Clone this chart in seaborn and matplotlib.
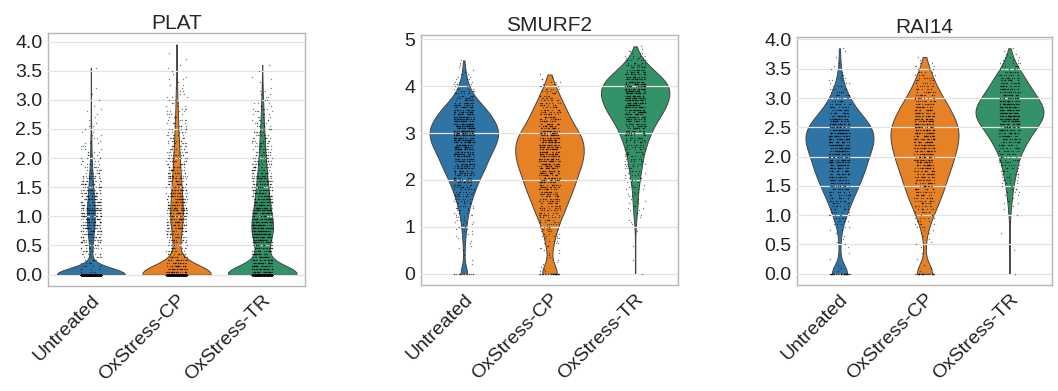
import numpy as np
import pandas as pd
import matplotlib
matplotlib.use("Agg")
import matplotlib.pyplot as plt
from matplotlib.ticker import MultipleLocator, FormatStrFormatter
import seaborn as sns

groups = ["Untreated", "OxStress-CP", "OxStress-TR"]
palette = ["#1f77b4", "#ff7f0e", "#279e68"]

# expression level (0.05 steps) -> number of cells
# each row of ten covers 0.5 units of expression
plat_levels = np.round(np.arange(0, 4.001, 0.05), 2)
plat_untreated = [1000, 4, 4, 5, 5, 5, 6, 7, 7, 9,
                  10, 11, 12, 14, 15, 17, 18, 20, 20, 21,
                  22, 21, 21, 20, 20, 18, 17, 16, 15, 14,
                  13, 12, 11, 10, 9, 8, 7, 6, 6, 5,
                  5, 4, 4, 3, 3, 3, 2, 2, 2, 2,
                  1, 2, 1, 1, 1, 1, 1, 1, 1, 0,
                  1, 0, 1, 0, 1, 0, 0, 0, 0, 0,
                  0, 1, 0, 0, 0, 0, 0, 0, 0, 0,
                  0]
plat_cp = [700, 24, 22, 20, 17, 15, 12, 11, 9, 9,
           9, 10, 11, 12, 14, 15, 16, 18, 18, 19,
           20, 20, 19, 19, 18, 18, 17, 16, 16, 15,
           15, 14, 14, 13, 13, 12, 12, 11, 11, 10,
           10, 9, 9, 8, 8, 7, 7, 7, 6, 6,
           6, 5, 5, 5, 4, 4, 4, 3, 3, 3,
           3, 3, 2, 2, 2, 2, 1, 2, 1, 1,
           1, 1, 1, 0, 1, 0, 1, 0, 0, 1,
           0]
plat_tr = [600, 30, 30, 29, 27, 25, 22, 21, 19, 19,
           20, 22, 25, 29, 34, 35, 35, 34, 32, 30,
           29, 28, 26, 25, 24, 23, 22, 21, 20, 19,
           18, 17, 16, 16, 15, 14, 13, 13, 12, 11,
           11, 10, 10, 9, 9, 8, 8, 7, 7, 7,
           6, 6, 5, 5, 4, 4, 4, 4, 3, 3,
           3, 2, 2, 2, 1, 1, 1, 1, 1, 0,
           1, 0, 1, 0, 0, 0, 0, 0, 0, 0,
           0]

smurf2_levels = np.round(np.arange(0, 4.851, 0.05), 2)
smurf2_untreated = [20, 0, 0, 0, 1, 0, 1, 0, 1, 0,
                    1, 1, 1, 1, 1, 1, 1, 2, 2, 2,
                    2, 2, 3, 3, 3, 3, 4, 4, 5, 5,
                    6, 6, 7, 8, 8, 9, 10, 11, 11, 12,
                    13, 14, 15, 16, 17, 18, 19, 20, 20, 21,
                    22, 23, 24, 25, 26, 28, 28, 29, 30, 30,
                    30, 30, 30, 29, 28, 27, 25, 24, 23, 21,
                    20, 18, 16, 14, 12, 10, 8, 7, 6, 5,
                    4, 4, 3, 3, 2, 2, 1, 1, 1, 1,
                    1, 1, 0, 0, 0, 0, 0, 0]
smurf2_cp = [35, 2, 1, 1, 1, 1, 1, 1, 1, 2,
             2, 2, 2, 3, 3, 3, 4, 4, 4, 5,
             5, 6, 6, 7, 8, 9, 9, 10, 10, 11,
             11, 12, 13, 13, 14, 14, 15, 16, 16, 17,
             17, 17, 18, 18, 19, 20, 20, 21, 21, 22,
             22, 22, 22, 22, 22, 22, 22, 22, 21, 21,
             19, 18, 17, 16, 15, 14, 13, 13, 12, 12,
             11, 10, 9, 9, 8, 7, 6, 6, 5, 5,
             4, 3, 3, 2, 1, 1, 0, 0, 0, 0,
             0, 0, 0, 0, 0, 0, 0, 0]
smurf2_tr = [1, 0, 0, 0, 0, 0, 1, 0, 0, 0,
             0, 0, 1, 0, 0, 0, 0, 0, 1, 0,
             0, 1, 1, 1, 1, 1, 1, 2, 2, 2,
             2, 2, 2, 2, 2, 2, 3, 3, 3, 3,
             4, 4, 4, 4, 5, 5, 5, 6, 6, 6,
             6, 7, 7, 8, 8, 9, 10, 10, 11, 12,
             12, 13, 14, 15, 16, 17, 18, 20, 21, 22,
             23, 24, 25, 26, 26, 27, 27, 28, 28, 28,
             27, 26, 25, 23, 21, 19, 17, 14, 12, 10,
             8, 7, 5, 4, 3, 2, 1, 1]

rai14_levels = np.round(np.arange(0, 3.851, 0.05), 2)
rai14_untreated = [40, 1, 1, 1, 0, 1, 0, 1, 0, 1,
                   1, 1, 1, 1, 1, 2, 2, 3, 4, 5,
                   6, 6, 7, 8, 9, 10, 11, 12, 13, 14,
                   15, 16, 17, 18, 19, 20, 21, 21, 22, 22,
                   23, 24, 25, 26, 27, 27, 28, 28, 28, 27,
                   26, 25, 23, 20, 18, 16, 14, 12, 11, 9,
                   8, 7, 6, 5, 4, 3, 3, 2, 2, 1,
                   1, 1, 1, 0, 1, 0, 1, 1]
rai14_cp = [35, 1, 1, 1, 0, 1, 0, 1, 0, 1,
            1, 1, 1, 1, 2, 2, 3, 4, 4, 5,
            6, 7, 7, 8, 9, 10, 11, 12, 12, 13,
            13, 14, 14, 15, 16, 17, 17, 18, 18, 19,
            20, 20, 21, 21, 22, 22, 22, 23, 23, 23,
            22, 22, 21, 20, 19, 18, 17, 16, 15, 14,
            12, 11, 10, 9, 8, 7, 6, 6, 5, 4,
            3, 3, 2, 1, 1, 0, 0, 0]
rai14_tr = [1, 0, 0, 0, 0, 0, 0, 0, 1, 0,
            0, 0, 0, 0, 1, 0, 0, 0, 1, 0,
            1, 1, 1, 1, 2, 2, 2, 2, 3, 3,
            3, 4, 4, 5, 5, 6, 6, 7, 7, 8,
            8, 10, 11, 12, 13, 15, 16, 18, 19, 21,
            23, 25, 26, 28, 30, 30, 29, 28, 27, 26,
            24, 22, 20, 19, 17, 16, 14, 13, 11, 10,
            8, 6, 5, 4, 3, 2, 1, 1]

genes = [
    ("PLAT", plat_levels, [plat_untreated, plat_cp, plat_tr], 0.5),
    ("SMURF2", smurf2_levels, [smurf2_untreated, smurf2_cp, smurf2_tr], 1),
    ("RAI14", rai14_levels, [rai14_untreated, rai14_cp, rai14_tr], 0.5),
]

# axes boxes in figure fraction (left, bottom, width, height)
boxes = [
    (0.0454, 0.2685, 0.2429, 0.6471),
    (0.3979, 0.2711, 0.2429, 0.6394),
    (0.7533, 0.2711, 0.2410, 0.6343),
]

sns.set_style("white")
plt.rcParams["font.family"] = ["Liberation Sans", "DejaVu Sans"]
np.random.seed(0)

fig = plt.figure(figsize=(10.58, 3.91), dpi=100)

for (gene, levels, counts, step), box in zip(genes, boxes):
    ax = fig.add_axes(box)
    df = pd.concat([
        pd.DataFrame({"group": g, "value": np.repeat(levels, c)})
        for g, c in zip(groups, counts)
    ], ignore_index=True)

    sns.violinplot(data=df, x="group", y="value", hue="group", order=groups,
                   hue_order=groups, palette=palette, saturation=0.8, cut=0,
                   density_norm="width", inner=None, linewidth=0.7,
                   linecolor="#444444", bw_adjust=0.75, legend=False, ax=ax)
    sns.stripplot(data=df, x="group", y="value", order=groups, color="black",
                  size=1, jitter=0.12, alpha=0.5, ax=ax)

    ax.set_title(gene, fontsize=15, pad=3)
    ax.set_xlabel("")
    ax.set_ylabel("")
    ax.yaxis.set_major_locator(MultipleLocator(step))
    if step == 0.5:
        ax.yaxis.set_major_formatter(FormatStrFormatter("%.1f"))
    ax.set_axisbelow(False)
    ax.yaxis.grid(True, color="#e3e3e3", linewidth=0.9)
    ax.xaxis.grid(False)
    for s in ax.spines.values():
        s.set_color("#b5b5b5")
        s.set_linewidth(1.0)
    ax.tick_params(axis="both", length=3, color="#b5b5b5", labelsize=14,
                   labelcolor="#222222", pad=1)
    plt.setp(ax.get_xticklabels(), rotation=45, ha="right",
             rotation_mode="anchor")

fig.savefig("out.png", dpi=100)
